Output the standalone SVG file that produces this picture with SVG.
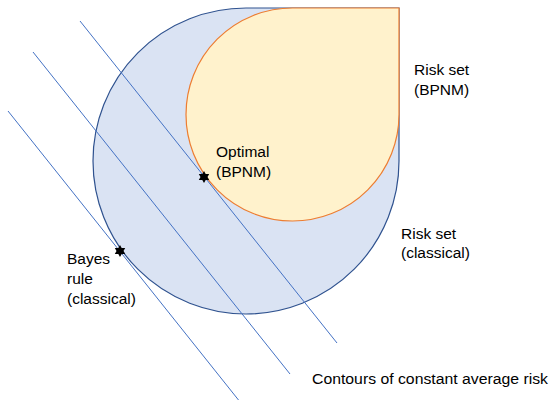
<svg xmlns="http://www.w3.org/2000/svg" width="553" height="401" viewBox="0 0 553 401">
  <defs>
    <style>
      .lbl { font-family: "Liberation Sans", Arial, sans-serif; font-size: 15.5px; fill: #000; }
      .contour { stroke: #4472C4; stroke-width: 1; fill: none; }
      .star { fill: #000; }
    </style>
    <polygon id="star6" points="0,-6 1.7,-3 5.2,-3 3.5,0 5.2,3 1.7,3 0,6 -1.7,3 -5.2,3 -3.5,0 -5.2,-3 -1.7,-3"/>
  </defs>

  <!-- risk set of classical rules -->
  <g id="risk-set-classical">
    <path d="M399 8 L399 161 A153 153 0 1 1 246 8 Z" fill="#DAE3F3" stroke="#2F528F" stroke-width="1.2"/>
  </g>

  <!-- risk set of BPNM rules -->
  <g id="risk-set-bpnm">
    <path d="M399 8 L399 114.5 A106.5 106.5 0 1 1 292.5 8 Z" fill="#FFF2CC" stroke="#ED7D31" stroke-width="1.2"/>
  </g>

  <!-- contours of constant average risk -->
  <g id="contours">
    <line class="contour" x1="80" y1="21" x2="337" y2="343"/>
    <line class="contour" x1="33" y1="52" x2="290" y2="374"/>
    <line class="contour" x1="8" y1="111" x2="238.5" y2="400"/>
  </g>

  <!-- optimal points -->
  <g id="optimal-bpnm">
    <use href="#star6" class="star" x="204" y="177"/>
  </g>
  <g id="bayes-rule">
    <use href="#star6" class="star" x="120" y="251"/>
  </g>

  <!-- labels -->
  <g id="labels">
    <text class="lbl" x="414" y="75">Risk set</text>
    <text class="lbl" x="414" y="95">(BPNM)</text>
    <text class="lbl" x="216" y="157">Optimal</text>
    <text class="lbl" x="216" y="177">(BPNM)</text>
    <text class="lbl" x="401" y="239">Risk set</text>
    <text class="lbl" x="401" y="258">(classical)</text>
    <text class="lbl" x="67" y="264">Bayes</text>
    <text class="lbl" x="67" y="284">rule</text>
    <text class="lbl" x="67" y="304">(classical)</text>
    <text class="lbl" x="312" y="384" textLength="236" lengthAdjust="spacingAndGlyphs">Contours of constant average risk</text>
  </g>
</svg>
